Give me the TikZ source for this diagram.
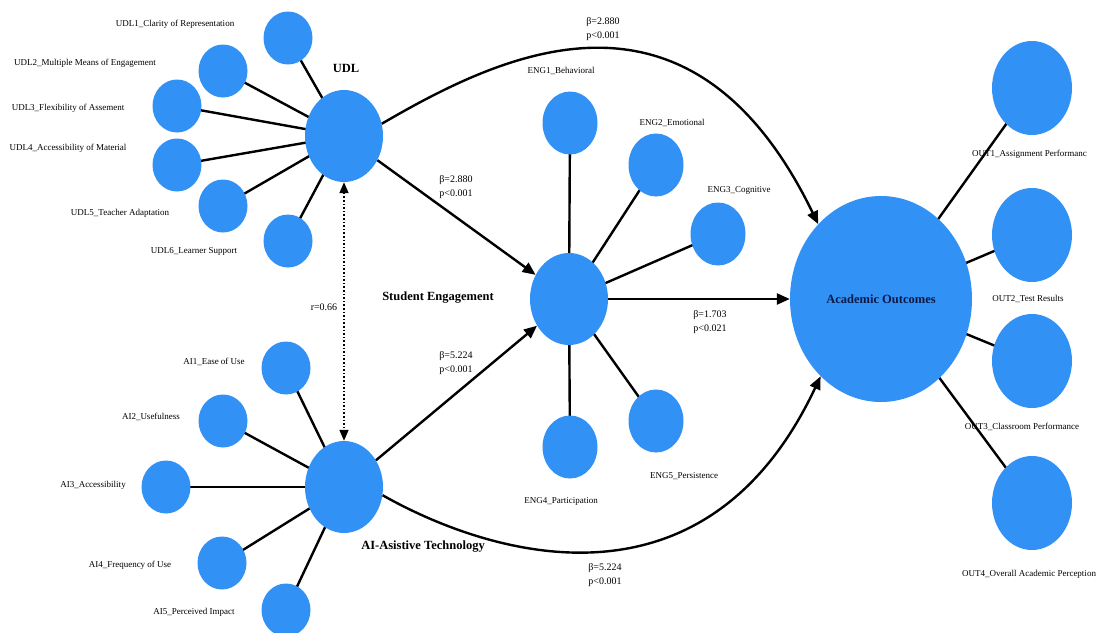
\documentclass[tikz,border=0pt]{standalone}
\usepackage{fontspec}
\setmainfont{Liberation Serif}
\usetikzlibrary{shapes.geometric,arrows.meta,backgrounds}
\definecolor{nodeblue}{RGB}{50,145,245}
\definecolor{navy}{RGB}{10,25,70}
\tikzset{
  hub/.style={ellipse,fill=nodeblue,draw=none,inner sep=0pt,minimum width=78pt,minimum height=92pt},
  ind/.style={ellipse,fill=nodeblue,draw=none,inner sep=0pt,minimum width=49pt,minimum height=53pt},
  indE/.style={ellipse,fill=nodeblue,draw=none,inner sep=0pt,minimum width=55pt,minimum height=63pt},
  indO/.style={ellipse,fill=nodeblue,draw=none,inner sep=0pt,minimum width=80pt,minimum height=94pt},
  lbl/.style={font=\fontsize{9}{10}\selectfont,inner sep=0pt},
  title/.style={font=\fontsize{12.5}{14}\selectfont\bfseries,inner sep=0pt},
  coef/.style={font=\fontsize{10}{14}\selectfont,align=left,inner sep=0pt},
  spoke/.style={line width=2.4pt},
  path/.style={line width=2.4pt,-{Triangle[length=13pt,width=11pt]}},
  corr/.style={line width=1.6pt,dotted,{Triangle[length=11pt,width=9pt]}-{Triangle[length=11pt,width=9pt]}}
}
\begin{document}
\begin{tikzpicture}[x=1pt,y=-1pt]
\useasboundingbox (0,0) rectangle (1103,632);
% hubs
\node[hub] (udl) at (344,136) {};
\node[hub] (ai) at (344,487) {};
\node[hub] (eng) at (569,299) {};
\node[ellipse,fill=nodeblue,inner sep=0pt,minimum width=182pt,minimum height=206pt,text=navy,font=\fontsize{12.5}{14}\selectfont\bfseries] (ao) at (881,299) {Academic Outcomes};
% UDL indicators
\node[ind] (u1) at (288,38) {};
\node[ind] (u2) at (223,71) {};
\node[ind] (u3) at (177,106) {};
\node[ind] (u4) at (177,165) {};
\node[ind] (u5) at (223,206) {};
\node[ind] (u6) at (288,241) {};
% AI indicators
\node[ind] (a1) at (286,368) {};
\node[ind] (a2) at (223,421) {};
\node[ind] (a3) at (166,487) {};
\node[ind] (a4) at (222,563) {};
\node[ind] (a5) at (286,610) {};
% ENG indicators
\node[indE] (e1) at (570,123) {};
\node[indE] (e2) at (656,165) {};
\node[indE] (e3) at (718,234) {};
\node[indE] (e4) at (570,447) {};
\node[indE] (e5) at (656,421) {};
% OUT indicators
\node[indO] (o1) at (1032,88) {};
\node[indO] (o2) at (1032,235) {};
\node[indO] (o3) at (1032,361) {};
\node[indO] (o4) at (1032,503) {};
% spokes
\begin{scope}[on background layer]
\foreach \n in {u1,u2,u3,u4,u5,u6} \draw[spoke] (udl.center) -- (\n.center);
\foreach \n in {a1,a2,a3,a4,a5} \draw[spoke] (ai.center) -- (\n.center);
\foreach \n in {e1,e2,e3,e4,e5} \draw[spoke] (eng.center) -- (\n.center);
\foreach \n in {o1,o2,o3,o4} \draw[spoke] (ao.center) -- (\n.center);
\end{scope}
% labels
\node[lbl] (lu1) at (175,24) {UDL1\_Clarity of Representation};
\node[lbl] (lu2) at (85,63) {UDL2\_Multiple Means of Engagement};
\node[lbl] (lu3) at (68,108) {UDL3\_Flexibility of Assement};
\node[lbl] (lu4) at (68,148) {UDL4\_Accessibility of Material};
\node[lbl] (lu5) at (120,213) {UDL5\_Teacher Adaptation};
\node[lbl] (lu6) at (194,251) {UDL6\_Learner Support};
\node[lbl] (la1) at (214,362) {AI1\_Ease of Use};
\node[lbl] (la2) at (151,417) {AI2\_Usefulness};
\node[lbl] (la3) at (93,485) {AI3\_Accessibility};
\node[lbl] (la4) at (130,565) {AI4\_Frequency of Use};
\node[lbl] (la5) at (194,612) {AI5\_Perceived Impact};
\node[lbl] (le1) at (561,71) {ENG1\_Behavioral};
\node[lbl] (le2) at (672,123) {ENG2\_Emotional};
\node[lbl] (le3) at (739,190) {ENG3\_Cognitive};
\node[lbl] (le4) at (561,501) {ENG4\_Participation};
\node[lbl] (le5) at (684,476) {ENG5\_Persistence};
\node[lbl,anchor=west] (lo1) at (972,154) {OUT1\_Assignment Performanc};
\node[lbl] (lo2) at (1028,299) {OUT2\_Test Results};
\node[lbl] (lo3) at (1022,427) {OUT3\_Classroom Performance};
\node[lbl] (lo4) at (1029,574) {OUT4\_Overall Academic Perception};
% titles
\node[title] (tudl) at (346,68) {UDL};
\node[title] (teng) at (438,298) {Student Engagement};
\node[title] (tai) at (423,547) {AI-Asistive Technology};
% paths
\draw[path] (udl) -- (eng);
\draw[path] (ai) -- (eng);
\draw[path] (eng) -- (ao);
\draw[path] (udl.18) .. controls (500,55) and (690,-40) .. (ao.130);
\draw[path] (ai.-12) .. controls (490,556) and (705,622) .. (ao.-128);
\draw[corr] (udl.south) -- (ai.north);
% coefficients
\node[coef] (c1) at (456,187) {β=2.880\\p<0.001};
\node[coef] (c2) at (456,363) {β=5.224\\p<0.001};
\node[coef] (c3) at (710,322) {β=1.703\\p<0.021};
\node[coef] (c4) at (603,29) {β=2.880\\p<0.001};
\node[coef] (c5) at (605,575) {β=5.224\\p<0.001};
\node[lbl,font=\fontsize{10}{12}\selectfont] (r) at (324,307) {r=0.66};
\end{tikzpicture}
\end{document}
